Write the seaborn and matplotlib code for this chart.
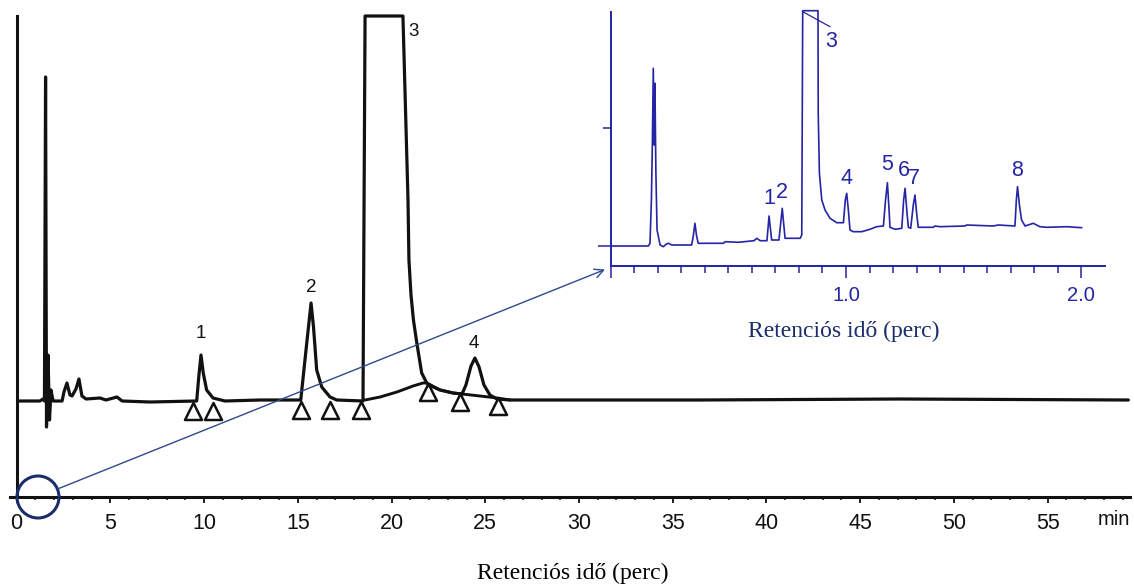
import matplotlib
matplotlib.use("Agg")
import matplotlib.pyplot as plt
import seaborn as sns
from matplotlib.patches import Circle

# ---------------- main chromatogram (minutes, detector signal) ----------------
main_time = [0.13, 1.25, 1.41, 1.49, 1.55, 1.60, 1.68, 1.76, 1.84, 1.95, 2.43, 2.53,
             2.69, 2.85, 2.96, 3.17, 3.33, 3.49, 3.71, 4.45, 4.77, 5.36, 5.63, 7.12,
             9.61, 9.73, 9.84, 9.96, 10.14, 10.48, 11.12, 12.99, 15.16, 15.48, 15.71,
             15.84, 16.01, 16.28, 16.72, 17.08, 18.48, 18.59, 20.61, 20.88, 20.93,
             21.04, 21.17, 21.35, 21.61, 21.88, 22.23, 22.59, 23.28, 23.76, 23.97,
             24.24, 24.45, 24.67, 24.93, 25.25, 25.63, 26.32, 36.45, 47.12, 59.30]
main_signal = [96, 96, 98, 96, 420, 70, 142, 77, 107, 96, 96, 105,
               114, 102, 101, 108, 118, 101, 98, 99, 97, 100, 96, 95,
               96, 122, 142, 124, 107, 99, 96, 97, 97, 154, 194,
               170, 127, 110, 100, 97, 96, 481, 481, 297, 237,
               202, 177, 154, 124, 114, 110, 107, 104, 103, 112,
               131, 139, 130, 112, 102, 98, 97, 97, 98, 97]

baseline_time = [18.59, 19.39, 20.29, 21.15, 21.68, 21.88, 22.59, 23.28, 23.76,
                 24.72, 25.63, 26.32]
baseline_signal = [97, 100, 105, 111, 114, 114, 107, 104, 103, 101, 99, 97]

marker_time = [9.41, 10.48, 15.17, 16.72, 18.37, 21.95, 23.65, 25.68]
marker_signal = [86, 86, 87, 87, 87, 105, 95, 91]

main_peak_labels = ["1", "2", "3", "4"]
main_label_time = [9.84, 15.71, 21.15, 24.40]
main_label_signal = [164, 209, 465, 154]

main_ticks = [0, 5, 10, 15, 20, 25, 30, 35, 40, 45, 50, 55]
main_tick_labels = ["0", "5", "10", "15", "20", "25", "30", "35", "40", "45", "50", "55"]
main_minor_ticks = list(range(0, 60))

# ---------------- inset chromatogram (minutes, signal) ----------------
inset_time = [0.000, 0.160, 0.167, 0.173, 0.177, 0.181, 0.185, 0.188, 0.192, 0.197,
              0.210, 0.224, 0.237, 0.245, 0.260, 0.344, 0.351, 0.358, 0.365, 0.372,
              0.479, 0.486, 0.543, 0.609, 0.621, 0.635, 0.664, 0.673, 0.684, 0.715,
              0.729, 0.741, 0.805, 0.812, 0.816, 0.881, 0.882, 0.887, 0.897, 0.911,
              0.932, 0.961, 0.989, 0.997, 1.003, 1.010, 1.017, 1.031, 1.067, 1.102,
              1.130, 1.159, 1.168, 1.176, 1.183, 1.187, 1.209, 1.237, 1.245, 1.251,
              1.260, 1.265, 1.275, 1.286, 1.293, 1.301, 1.307, 1.371, 1.378, 1.399,
              1.505, 1.513, 1.626, 1.647, 1.718, 1.724, 1.729, 1.737, 1.746, 1.761,
              1.796, 1.824, 1.853, 1.939, 2.002]
inset_signal = [0, 0, 2.7, 46, 101, 177.7, 101, 162.7, 74.3, 16,
                1, -0.7, 2, 2.7, 1, 1, 10, 22.7, 10, 2.7,
                2.7, 4.3, 3.7, 5.3, 7.7, 5.3, 5.3, 30, 6, 6,
                37.7, 7.7, 7.7, 11, 235.3, 235.3, 132.7, 72.7, 46, 36,
                27.7, 23.3, 23.3, 46, 52.7, 36, 16, 14.3, 14.3, 16.7,
                19.3, 20, 46, 63.3, 36, 18.7, 16.7, 17.7, 46, 57.7,
                31, 18.7, 17.7, 41, 51, 31, 18.7, 18.7, 20, 19.3,
                20, 21, 20, 21, 20, 46, 59.3, 41, 26, 20,
                22.7, 19.3, 18.7, 19.3, 18.3]

inset_peak_labels = ["1", "2", "3", "4", "5", "6", "7", "8"]
inset_label_time = [0.673, 0.729, 0.935, 1.003, 1.173, 1.244, 1.289, 1.726]
inset_label_signal = [47.7, 53.3, 204.3, 67.7, 81, 76, 67.7, 76]
leader_time = [0.816, 0.932]
leader_signal = [234.3, 219.3]

inset_ticks = [0.0, 1.0, 2.0]
inset_tick_labels = ["", "1.0", "2.0"]
inset_minor_ticks = [round(0.1 * i, 1) for i in range(0, 21)]

xlabel_text = "Retenciós idő (perc)"
unit_text = "min"

# ---------------- styling ----------------
sns.set_theme(style="white")
plt.rcParams["font.family"] = ["Liberation Sans", "DejaVu Sans"]

INK = "#111111"
BLUE = "#2424a4"
NAVY = "#1b2d6b"
SERIF = ["Liberation Serif", "DejaVu Serif"]

W, H = 1134, 586
fig = plt.figure(figsize=(W / 100, H / 100), dpi=100)

# ---------------- main axes ----------------
ax = fig.add_axes([10 / W, (H - 497) / H, 1120 / W, 489 / H])
ax.patch.set_alpha(0)
sns.lineplot(x=main_time, y=main_signal, ax=ax, color=INK, linewidth=2.3,
             sort=False, estimator=None)
sns.lineplot(x=baseline_time, y=baseline_signal, ax=ax, color=INK, linewidth=2.1,
             sort=False, estimator=None)
sns.scatterplot(x=marker_time, y=marker_signal, ax=ax, marker="^", s=150,
                color="white", edgecolor=INK, linewidth=1.8, zorder=4)
for lab, t, s in zip(main_peak_labels, main_label_time, main_label_signal):
    ax.text(t, s, lab, ha="center", va="center", fontsize=13.5, color=INK)

ax.set_xlim(-0.347, 59.387)
ax.set_ylim(0, 489)
for side in ("top", "right"):
    ax.spines[side].set_visible(False)
ax.spines["left"].set_position(("data", 0))
ax.spines["left"].set_bounds(0, 481)
for side in ("left", "bottom"):
    ax.spines[side].set_color(INK)
    ax.spines[side].set_linewidth(2.2)
ax.set_xticks(main_ticks)
ax.set_xticklabels(main_tick_labels)
ax.set_xticks(main_minor_ticks, minor=True)
ax.set_yticks([])
ax.tick_params(axis="x", which="major", bottom=True, direction="out", length=4,
               width=1.3, pad=7.5, labelsize=15.5, colors=INK)
ax.tick_params(axis="x", which="minor", bottom=True, direction="out", length=2.5,
               width=1.1, colors=INK)
ax.set_xlabel("")
ax.set_ylabel("")
ax.annotate(unit_text, xy=(58.55, 0), xytext=(0, -16.5), textcoords="offset points",
            ha="center", va="center", fontsize=14.5, color=INK, annotation_clip=False)

fig.text(573 / W, 1 - 579.3 / H, xlabel_text, ha="center", va="baseline",
         fontsize=17, color="black", family=SERIF)

# ---------------- inset axes ----------------
axi = fig.add_axes([610.7 / W, (H - 266) / H, (1105 - 610.7) / W, 258 / H])
axi.patch.set_alpha(0)
sns.lineplot(x=inset_time, y=inset_signal, ax=axi, color=BLUE, linewidth=1.2,
             sort=False, estimator=None)
sns.lineplot(x=leader_time, y=leader_signal, ax=axi, color=BLUE, linewidth=0.9,
             sort=False, estimator=None)
for lab, t, s in zip(inset_peak_labels, inset_label_time, inset_label_signal):
    axi.text(t, s, lab, ha="center", va="center", fontsize=15.5, color=BLUE)

axi.set_xlim(0, (1105 - 610.7) / 235.3)
axi.set_ylim(-20, 238)
for side in ("top", "right"):
    axi.spines[side].set_visible(False)
axi.spines["left"].set_bounds(-20, 234.3)
for side in ("left", "bottom"):
    axi.spines[side].set_color(BLUE)
    axi.spines[side].set_linewidth(1.4)
axi.set_xticks(inset_ticks)
axi.set_xticklabels(inset_tick_labels)
axi.set_xticks(inset_minor_ticks, minor=True)
axi.tick_params(axis="x", which="major", bottom=True, direction="out", length=8.6,
                width=1.1, pad=6, labelsize=14.5, colors=BLUE)
axi.tick_params(axis="x", which="minor", bottom=True, direction="out", length=5,
                width=1.1, colors=BLUE)
axi.set_yticks([118.3])
axi.set_yticklabels([""])
axi.set_yticks([0], minor=True)
axi.tick_params(axis="y", which="major", left=True, direction="out", length=5.8,
                width=1.1, colors=BLUE)
axi.tick_params(axis="y", which="minor", left=True, direction="out", length=9.4,
                width=1.1, colors=BLUE)
axi.set_xlabel("")
axi.set_ylabel("")

fig.text(843.3 / W, 1 - 336.7 / H, xlabel_text, ha="center", va="baseline",
         fontsize=17, color=NAVY, family=SERIF)

# ---------------- zoom circle and arrow ----------------
axo = fig.add_axes([0, 0, 1, 1])
axo.set_xlim(0, W)
axo.set_ylim(H, 0)
axo.axis("off")
axo.patch.set_alpha(0)
axo.add_patch(Circle((38, 497), 21, fill=False, edgecolor=NAVY, linewidth=2.2))
axo.annotate("", xy=(605, 269.5), xytext=(57.5, 489),
             arrowprops=dict(arrowstyle="->", color="#2d4a8a", lw=1.0,
                             mutation_scale=16, shrinkA=0, shrinkB=0))

fig.savefig("out.png", dpi=100)
